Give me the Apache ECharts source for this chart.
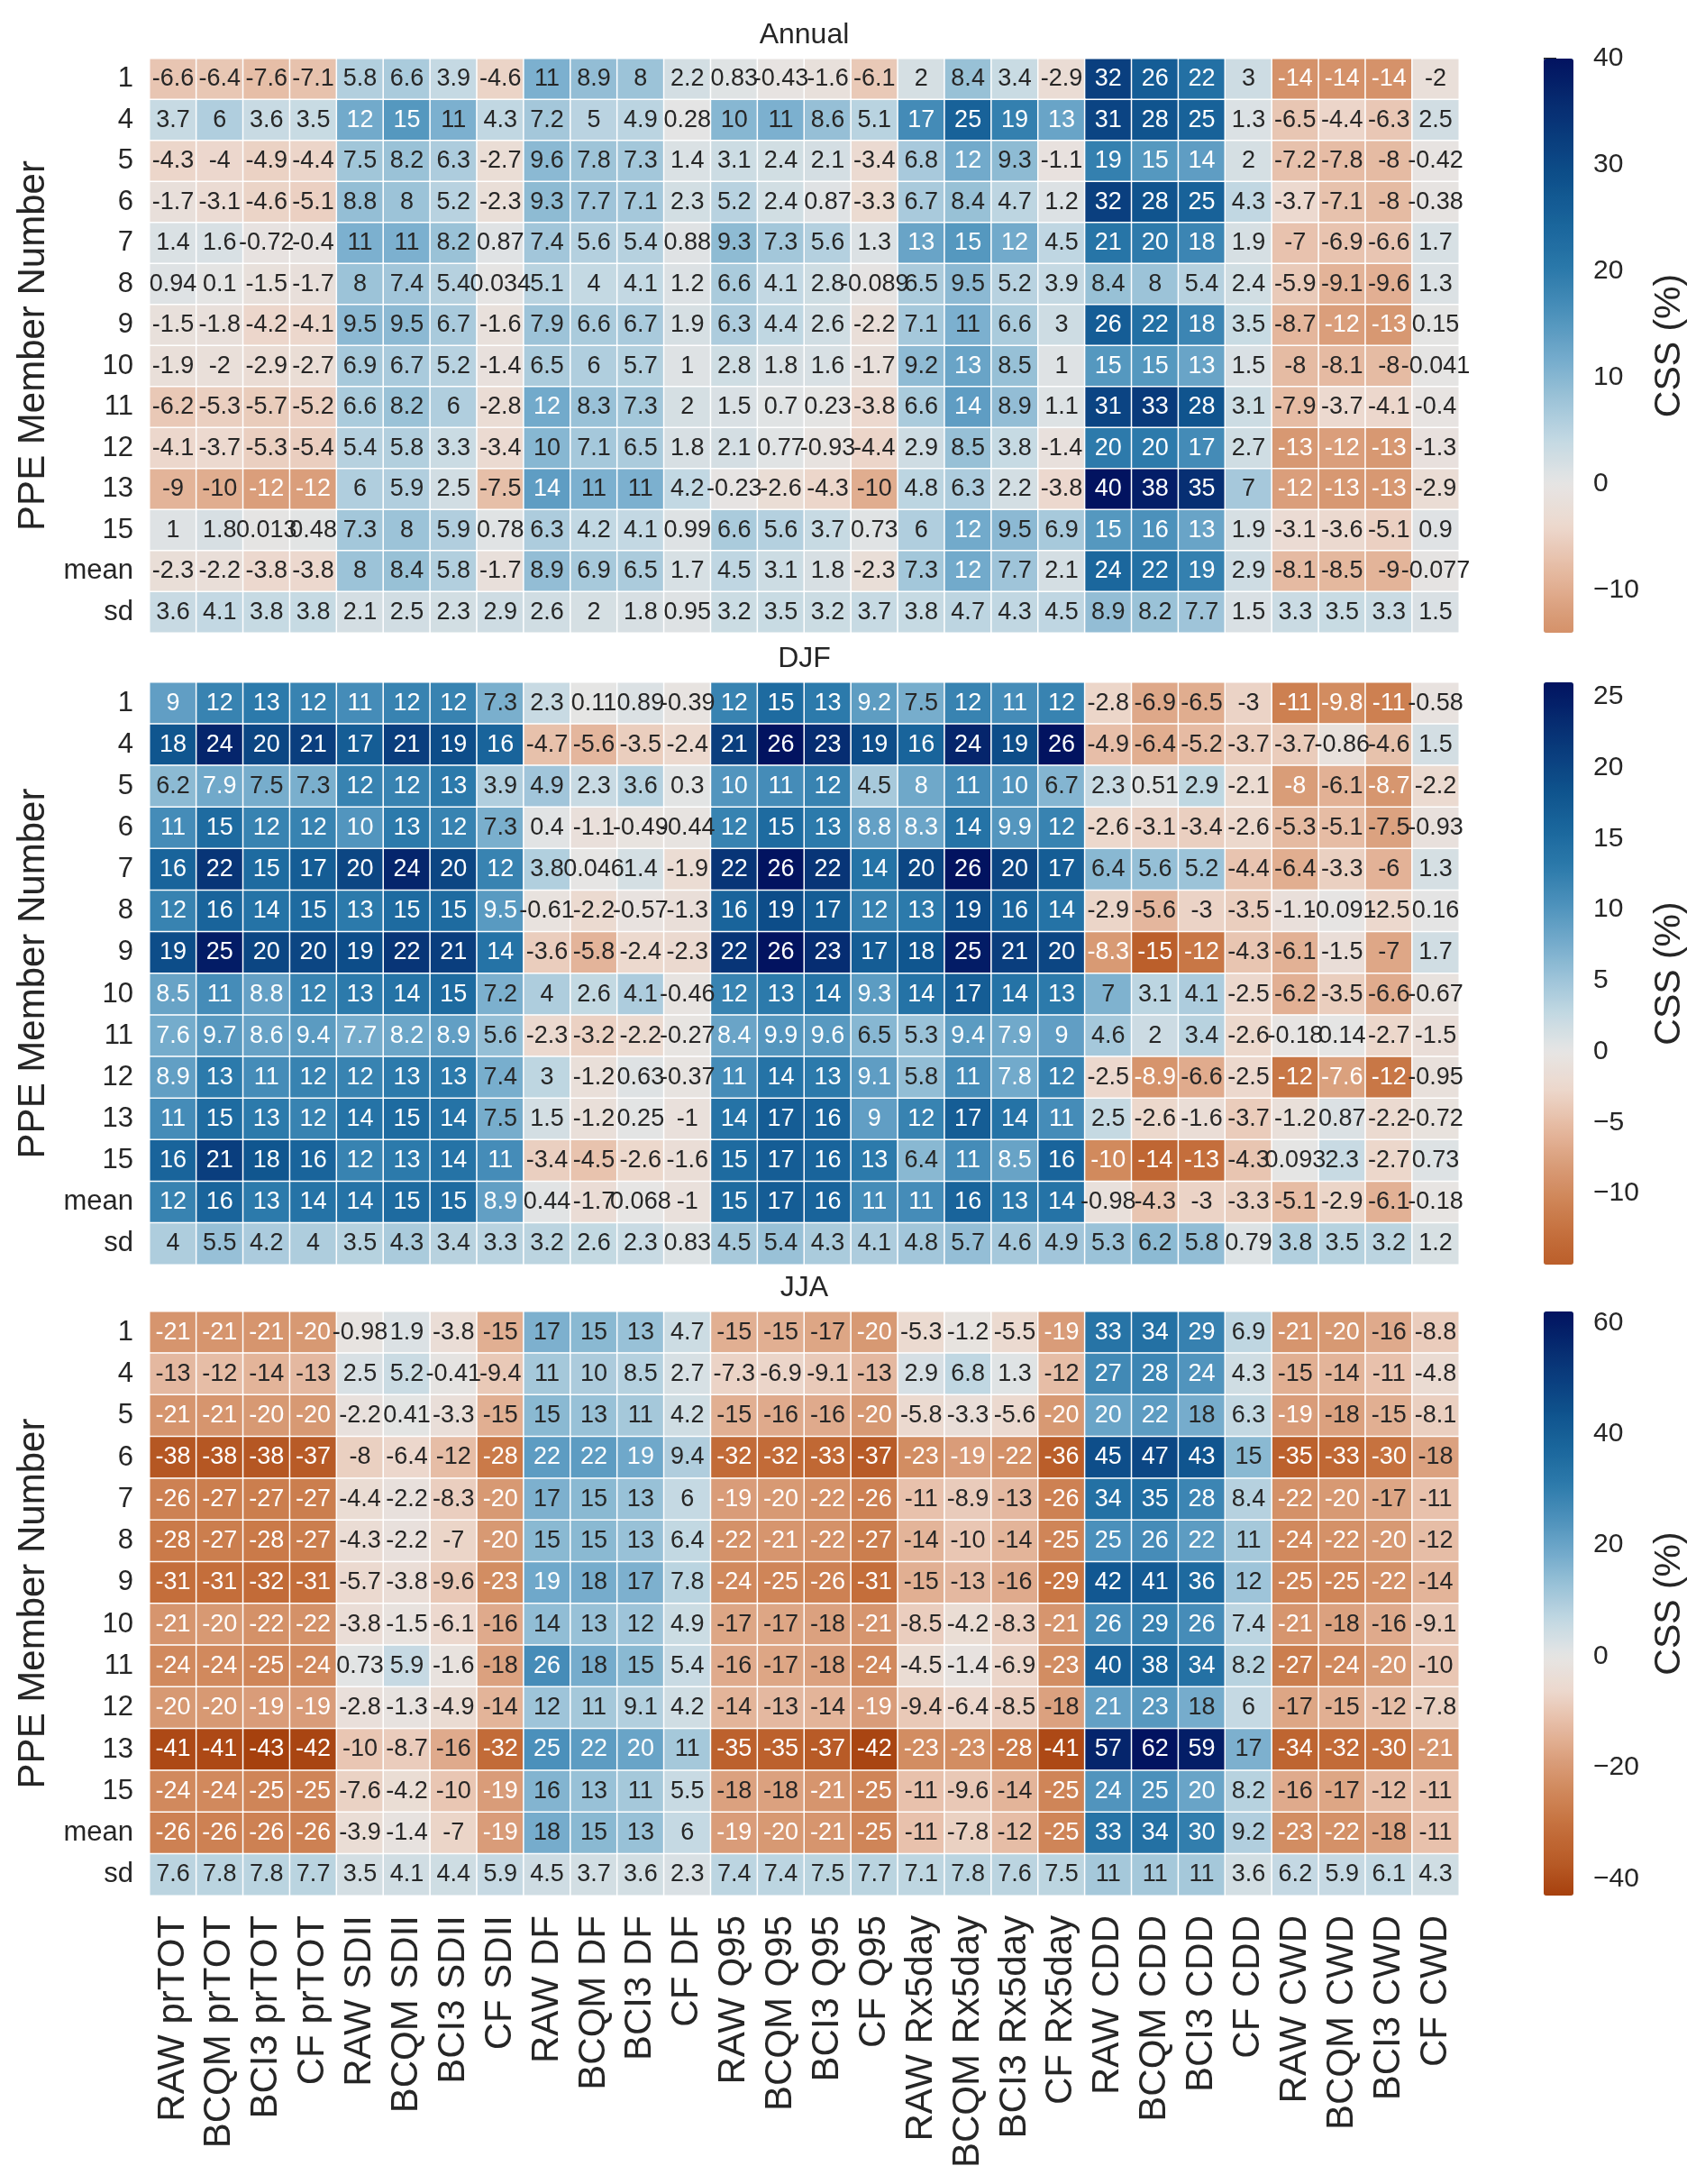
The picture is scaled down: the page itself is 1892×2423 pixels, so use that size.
<!DOCTYPE html>
<html>
<head>
<meta charset="utf-8">
<script src="https://cdn.jsdelivr.net/npm/echarts@6/dist/echarts.min.js"></script>
<style>
html, body { margin: 0; padding: 0; background: #fff; }
#chart { width: 1892px; height: 2423px; }
</style>
</head>
<body>
<div id="chart"></div>
<script>
'use strict';

// column labels (x) and PPE members (y)
var columns = ['RAW prTOT', 'BCQM prTOT', 'BCI3 prTOT', 'CF prTOT',
    'RAW SDII', 'BCQM SDII', 'BCI3 SDII', 'CF SDII',
    'RAW DF', 'BCQM DF', 'BCI3 DF', 'CF DF',
    'RAW Q95', 'BCQM Q95', 'BCI3 Q95', 'CF Q95',
    'RAW Rx5day', 'BCQM Rx5day', 'BCI3 Rx5day', 'CF Rx5day',
    'RAW CDD', 'BCQM CDD', 'BCI3 CDD', 'CF CDD',
    'RAW CWD', 'BCQM CWD', 'BCI3 CWD', 'CF CWD'];
var members = ['1', '4', '5', '6', '7', '8', '9', '10', '11', '12', '13', '15', 'mean', 'sd'];

// CSS (%) values, one row per member
var annual = [
    [-6.6, -6.4, -7.6, -7.1, 5.8, 6.6, 3.9, -4.6, 11, 8.9, 8, 2.2, 0.83, -0.43, -1.6, -6.1, 2, 8.4, 3.4, -2.9, 32, 26, 22, 3, -14, -14, -14, -2],
    [3.7, 6, 3.6, 3.5, 12, 15, 11, 4.3, 7.2, 5, 4.9, 0.28, 10, 11, 8.6, 5.1, 17, 25, 19, 13, 31, 28, 25, 1.3, -6.5, -4.4, -6.3, 2.5],
    [-4.3, -4, -4.9, -4.4, 7.5, 8.2, 6.3, -2.7, 9.6, 7.8, 7.3, 1.4, 3.1, 2.4, 2.1, -3.4, 6.8, 12, 9.3, -1.1, 19, 15, 14, 2, -7.2, -7.8, -8, -0.42],
    [-1.7, -3.1, -4.6, -5.1, 8.8, 8, 5.2, -2.3, 9.3, 7.7, 7.1, 2.3, 5.2, 2.4, 0.87, -3.3, 6.7, 8.4, 4.7, 1.2, 32, 28, 25, 4.3, -3.7, -7.1, -8, -0.38],
    [1.4, 1.6, -0.72, -0.4, 11, 11, 8.2, 0.87, 7.4, 5.6, 5.4, 0.88, 9.3, 7.3, 5.6, 1.3, 13, 15, 12, 4.5, 21, 20, 18, 1.9, -7, -6.9, -6.6, 1.7],
    [0.94, 0.1, -1.5, -1.7, 8, 7.4, 5.4, 0.034, 5.1, 4, 4.1, 1.2, 6.6, 4.1, 2.8, -0.089, 6.5, 9.5, 5.2, 3.9, 8.4, 8, 5.4, 2.4, -5.9, -9.1, -9.6, 1.3],
    [-1.5, -1.8, -4.2, -4.1, 9.5, 9.5, 6.7, -1.6, 7.9, 6.6, 6.7, 1.9, 6.3, 4.4, 2.6, -2.2, 7.1, 11, 6.6, 3, 26, 22, 18, 3.5, -8.7, -12, -13, 0.15],
    [-1.9, -2, -2.9, -2.7, 6.9, 6.7, 5.2, -1.4, 6.5, 6, 5.7, 1, 2.8, 1.8, 1.6, -1.7, 9.2, 13, 8.5, 1, 15, 15, 13, 1.5, -8, -8.1, -8, -0.041],
    [-6.2, -5.3, -5.7, -5.2, 6.6, 8.2, 6, -2.8, 12, 8.3, 7.3, 2, 1.5, 0.7, 0.23, -3.8, 6.6, 14, 8.9, 1.1, 31, 33, 28, 3.1, -7.9, -3.7, -4.1, -0.4],
    [-4.1, -3.7, -5.3, -5.4, 5.4, 5.8, 3.3, -3.4, 10, 7.1, 6.5, 1.8, 2.1, 0.77, -0.93, -4.4, 2.9, 8.5, 3.8, -1.4, 20, 20, 17, 2.7, -13, -12, -13, -1.3],
    [-9, -10, -12, -12, 6, 5.9, 2.5, -7.5, 14, 11, 11, 4.2, -0.23, -2.6, -4.3, -10, 4.8, 6.3, 2.2, -3.8, 40, 38, 35, 7, -12, -13, -13, -2.9],
    [1, 1.8, 0.013, 0.48, 7.3, 8, 5.9, 0.78, 6.3, 4.2, 4.1, 0.99, 6.6, 5.6, 3.7, 0.73, 6, 12, 9.5, 6.9, 15, 16, 13, 1.9, -3.1, -3.6, -5.1, 0.9],
    [-2.3, -2.2, -3.8, -3.8, 8, 8.4, 5.8, -1.7, 8.9, 6.9, 6.5, 1.7, 4.5, 3.1, 1.8, -2.3, 7.3, 12, 7.7, 2.1, 24, 22, 19, 2.9, -8.1, -8.5, -9, -0.077],
    [3.6, 4.1, 3.8, 3.8, 2.1, 2.5, 2.3, 2.9, 2.6, 2, 1.8, 0.95, 3.2, 3.5, 3.2, 3.7, 3.8, 4.7, 4.3, 4.5, 8.9, 8.2, 7.7, 1.5, 3.3, 3.5, 3.3, 1.5]
];

var djf = [
    [9, 12, 13, 12, 11, 12, 12, 7.3, 2.3, 0.11, 0.89, -0.39, 12, 15, 13, 9.2, 7.5, 12, 11, 12, -2.8, -6.9, -6.5, -3, -11, -9.8, -11, -0.58],
    [18, 24, 20, 21, 17, 21, 19, 16, -4.7, -5.6, -3.5, -2.4, 21, 26, 23, 19, 16, 24, 19, 26, -4.9, -6.4, -5.2, -3.7, -3.7, -0.86, -4.6, 1.5],
    [6.2, 7.9, 7.5, 7.3, 12, 12, 13, 3.9, 4.9, 2.3, 3.6, 0.3, 10, 11, 12, 4.5, 8, 11, 10, 6.7, 2.3, 0.51, 2.9, -2.1, -8, -6.1, -8.7, -2.2],
    [11, 15, 12, 12, 10, 13, 12, 7.3, 0.4, -1.1, -0.49, -0.44, 12, 15, 13, 8.8, 8.3, 14, 9.9, 12, -2.6, -3.1, -3.4, -2.6, -5.3, -5.1, -7.5, -0.93],
    [16, 22, 15, 17, 20, 24, 20, 12, 3.8, 0.046, 1.4, -1.9, 22, 26, 22, 14, 20, 26, 20, 17, 6.4, 5.6, 5.2, -4.4, -6.4, -3.3, -6, 1.3],
    [12, 16, 14, 15, 13, 15, 15, 9.5, -0.61, -2.2, -0.57, -1.3, 16, 19, 17, 12, 13, 19, 16, 14, -2.9, -5.6, -3, -3.5, -1.1, -0.091, -2.5, 0.16],
    [19, 25, 20, 20, 19, 22, 21, 14, -3.6, -5.8, -2.4, -2.3, 22, 26, 23, 17, 18, 25, 21, 20, -8.3, -15, -12, -4.3, -6.1, -1.5, -7, 1.7],
    [8.5, 11, 8.8, 12, 13, 14, 15, 7.2, 4, 2.6, 4.1, -0.46, 12, 13, 14, 9.3, 14, 17, 14, 13, 7, 3.1, 4.1, -2.5, -6.2, -3.5, -6.6, -0.67],
    [7.6, 9.7, 8.6, 9.4, 7.7, 8.2, 8.9, 5.6, -2.3, -3.2, -2.2, -0.27, 8.4, 9.9, 9.6, 6.5, 5.3, 9.4, 7.9, 9, 4.6, 2, 3.4, -2.6, -0.18, 0.14, -2.7, -1.5],
    [8.9, 13, 11, 12, 12, 13, 13, 7.4, 3, -1.2, 0.63, -0.37, 11, 14, 13, 9.1, 5.8, 11, 7.8, 12, -2.5, -8.9, -6.6, -2.5, -12, -7.6, -12, -0.95],
    [11, 15, 13, 12, 14, 15, 14, 7.5, 1.5, -1.2, 0.25, -1, 14, 17, 16, 9, 12, 17, 14, 11, 2.5, -2.6, -1.6, -3.7, -1.2, 0.87, -2.2, -0.72],
    [16, 21, 18, 16, 12, 13, 14, 11, -3.4, -4.5, -2.6, -1.6, 15, 17, 16, 13, 6.4, 11, 8.5, 16, -10, -14, -13, -4.3, 0.093, 2.3, -2.7, 0.73],
    [12, 16, 13, 14, 14, 15, 15, 8.9, 0.44, -1.7, 0.068, -1, 15, 17, 16, 11, 11, 16, 13, 14, -0.98, -4.3, -3, -3.3, -5.1, -2.9, -6.1, -0.18],
    [4, 5.5, 4.2, 4, 3.5, 4.3, 3.4, 3.3, 3.2, 2.6, 2.3, 0.83, 4.5, 5.4, 4.3, 4.1, 4.8, 5.7, 4.6, 4.9, 5.3, 6.2, 5.8, 0.79, 3.8, 3.5, 3.2, 1.2]
];

var jja = [
    [-21, -21, -21, -20, -0.98, 1.9, -3.8, -15, 17, 15, 13, 4.7, -15, -15, -17, -20, -5.3, -1.2, -5.5, -19, 33, 34, 29, 6.9, -21, -20, -16, -8.8],
    [-13, -12, -14, -13, 2.5, 5.2, -0.41, -9.4, 11, 10, 8.5, 2.7, -7.3, -6.9, -9.1, -13, 2.9, 6.8, 1.3, -12, 27, 28, 24, 4.3, -15, -14, -11, -4.8],
    [-21, -21, -20, -20, -2.2, 0.41, -3.3, -15, 15, 13, 11, 4.2, -15, -16, -16, -20, -5.8, -3.3, -5.6, -20, 20, 22, 18, 6.3, -19, -18, -15, -8.1],
    [-38, -38, -38, -37, -8, -6.4, -12, -28, 22, 22, 19, 9.4, -32, -32, -33, -37, -23, -19, -22, -36, 45, 47, 43, 15, -35, -33, -30, -18],
    [-26, -27, -27, -27, -4.4, -2.2, -8.3, -20, 17, 15, 13, 6, -19, -20, -22, -26, -11, -8.9, -13, -26, 34, 35, 28, 8.4, -22, -20, -17, -11],
    [-28, -27, -28, -27, -4.3, -2.2, -7, -20, 15, 15, 13, 6.4, -22, -21, -22, -27, -14, -10, -14, -25, 25, 26, 22, 11, -24, -22, -20, -12],
    [-31, -31, -32, -31, -5.7, -3.8, -9.6, -23, 19, 18, 17, 7.8, -24, -25, -26, -31, -15, -13, -16, -29, 42, 41, 36, 12, -25, -25, -22, -14],
    [-21, -20, -22, -22, -3.8, -1.5, -6.1, -16, 14, 13, 12, 4.9, -17, -17, -18, -21, -8.5, -4.2, -8.3, -21, 26, 29, 26, 7.4, -21, -18, -16, -9.1],
    [-24, -24, -25, -24, 0.73, 5.9, -1.6, -18, 26, 18, 15, 5.4, -16, -17, -18, -24, -4.5, -1.4, -6.9, -23, 40, 38, 34, 8.2, -27, -24, -20, -10],
    [-20, -20, -19, -19, -2.8, -1.3, -4.9, -14, 12, 11, 9.1, 4.2, -14, -13, -14, -19, -9.4, -6.4, -8.5, -18, 21, 23, 18, 6, -17, -15, -12, -7.8],
    [-41, -41, -43, -42, -10, -8.7, -16, -32, 25, 22, 20, 11, -35, -35, -37, -42, -23, -23, -28, -41, 57, 62, 59, 17, -34, -32, -30, -21],
    [-24, -24, -25, -25, -7.6, -4.2, -10, -19, 16, 13, 11, 5.5, -18, -18, -21, -25, -11, -9.6, -14, -25, 24, 25, 20, 8.2, -16, -17, -12, -11],
    [-26, -26, -26, -26, -3.9, -1.4, -7, -19, 18, 15, 13, 6, -19, -20, -21, -25, -11, -7.8, -12, -25, 33, 34, 30, 9.2, -23, -22, -18, -11],
    [7.6, 7.8, 7.8, 7.7, 3.5, 4.1, 4.4, 5.9, 4.5, 3.7, 3.6, 2.3, 7.4, 7.4, 7.5, 7.7, 7.1, 7.8, 7.6, 7.5, 11, 11, 11, 3.6, 6.2, 5.9, 6.1, 4.3]
];

// colorbar tick labels
var annualTicks = [-10, 0, 10, 20, 30, 40];
var djfTicks = [-10, -5, 0, 5, 10, 15, 20, 25];
var jjaTicks = [-40, -20, 0, 20, 40, 60];

// diverging map, centred on 0 (orange-brown -> grey -> navy)
var cmapStops = [
    [-1.0, '#590f08'], [-0.9, '#752005'], [-0.8, '#8e2c05'], [-0.7, '#a53f0c'],
    [-0.6, '#b85a26'], [-0.5, '#c46e3b'], [-0.4, '#cf8658'], [-0.3, '#da9e7b'],
    [-0.2, '#e6bba3'], [-0.1, '#ecd8cd'], [0.0, '#e6e5e4'], [0.1, '#c4d9e3'],
    [0.2, '#9cc3d8'], [0.3, '#72aacb'], [0.4, '#4c91bb'], [0.5, '#2c7aab'],
    [0.6, '#1b679d'], [0.7, '#0f548e'], [0.8, '#0a3f7f'], [0.9, '#062a6f'],
    [1.0, '#021360']
];

function hexRgb(h) {
    return [parseInt(h.substr(1, 2), 16), parseInt(h.substr(3, 2), 16), parseInt(h.substr(5, 2), 16)];
}

function cmap(s) {
    s = Math.max(-1, Math.min(1, s));
    for (var i = 1; i < cmapStops.length; i++) {
        if (s <= cmapStops[i][0]) {
            var a = cmapStops[i - 1], b = cmapStops[i];
            var t = (s - a[0]) / (b[0] - a[0]);
            var ca = hexRgb(a[1]), cb = hexRgb(b[1]);
            return 'rgb(' + [0, 1, 2].map(function(k) {
                return Math.round(ca[k] + (cb[k] - ca[k]) * t);
            }).join(',') + ')';
        }
    }
    return cmapStops[cmapStops.length - 1][1];
}

var FONT = 'Liberation Sans, Arial, Helvetica, sans-serif';
var INK = '#262626';
var gridLeft = 166, gridWidth = 1453;
var barLeft = 1713, barWidth = 33;

var panels = [
    {title: 'Annual', rows: annual, ticks: annualTicks, top: 65, height: 637},
    {title: 'DJF', rows: djf, ticks: djfTicks, top: 757, height: 646},
    {title: 'JJA', rows: jja, ticks: jjaTicks, top: 1455, height: 648}
];
var n = panels.length;

// heatmap grids/axes take indices 0..n-1, colorbar grids/axes n..2n-1
var heatGrids = [], barGrids = [], heatX = [], barX = [], heatY = [], barY = [];
var series = [], visualMaps = [], graphics = [];

panels.forEach(function(p, i) {
    var flat = [].concat.apply([], p.rows);
    var vmin = Math.min.apply(null, flat);
    var vmax = Math.max.apply(null, flat);
    var vrange = Math.max(-vmin, vmax);

    var colors = [];
    for (var k = 0; k <= 60; k++) {
        colors.push(cmap((vmin + (vmax - vmin) * k / 60) / vrange));
    }

    var data = [];
    p.rows.forEach(function(row, r) {
        row.forEach(function(v, c) {
            data.push({
                value: [c, r, v],
                label: {color: Math.abs(v / vrange) >= 0.292 ? '#ffffff' : INK}
            });
        });
    });

    heatGrids.push({left: gridLeft, top: p.top, width: gridWidth, height: p.height});
    heatX.push({
        type: 'category', gridIndex: i, data: columns, position: 'bottom',
        axisLine: {show: false}, axisTick: {show: false}, splitLine: {show: false},
        axisLabel: {
            show: i === n - 1, interval: 0, rotate: 90, margin: 22,
            fontSize: 42, fontFamily: FONT, color: INK
        }
    });
    heatY.push({
        type: 'category', gridIndex: i, data: members, inverse: true,
        axisLine: {show: false}, axisTick: {show: false}, splitLine: {show: false},
        axisLabel: {interval: 0, margin: 18, fontSize: 31, fontFamily: FONT, color: INK},
        name: 'PPE Member Number', nameLocation: 'middle', nameRotate: 90, nameGap: 108,
        nameTextStyle: {fontSize: 42, fontFamily: FONT, color: INK}
    });
    series.push({
        type: 'heatmap', xAxisIndex: i, yAxisIndex: i, data: data,
        itemStyle: {borderColor: '#ffffff', borderWidth: 1.5},
        label: {
            show: true, fontSize: 27, fontFamily: FONT,
            formatter: function(prm) { return String(prm.value[2]); }
        },
        emphasis: {disabled: true}
    });
    visualMaps.push({
        type: 'continuous', seriesIndex: i, dimension: 2,
        min: vmin, max: vmax, inRange: {color: colors},
        show: true, calculable: false, hoverLink: false, text: null,
        left: barLeft, top: p.top, itemWidth: barWidth, itemHeight: p.height, padding: 0
    });

    // colorbar axis sits on top of the visualMap bar
    barGrids.push({left: barLeft, top: p.top, width: barWidth, height: p.height});
    barX.push({type: 'value', gridIndex: n + i, show: false, min: 0, max: 1});
    barY.push({
        type: 'value', gridIndex: n + i, position: 'right', min: vmin, max: vmax,
        axisLine: {show: false}, splitLine: {show: false},
        axisTick: {show: true, customValues: p.ticks, length: 14, lineStyle: {color: INK, width: 2}},
        axisLabel: {
            customValues: p.ticks, margin: 22, fontSize: 30, fontFamily: FONT, color: INK,
            formatter: function(v) { return String(v).replace('-', '\u2212'); }
        },
        name: 'CSS (%)', nameLocation: 'middle', nameRotate: 90, nameGap: 86,
        nameTextStyle: {fontSize: 41, fontFamily: FONT, color: INK}
    });

    graphics.push({
        type: 'text', x: gridLeft + gridWidth / 2, y: p.top - 26,
        style: {
            text: p.title, font: '32px ' + FONT, fill: INK,
            textAlign: 'center', textVerticalAlign: 'middle'
        }
    });
});

var chart = echarts.init(document.getElementById('chart'), null, {renderer: 'canvas'});
chart.setOption({
    backgroundColor: '#ffffff',
    animation: false,
    grid: heatGrids.concat(barGrids),
    xAxis: heatX.concat(barX),
    yAxis: heatY.concat(barY),
    visualMap: visualMaps,
    series: series,
    graphic: graphics
});
</script>
</body>
</html>
